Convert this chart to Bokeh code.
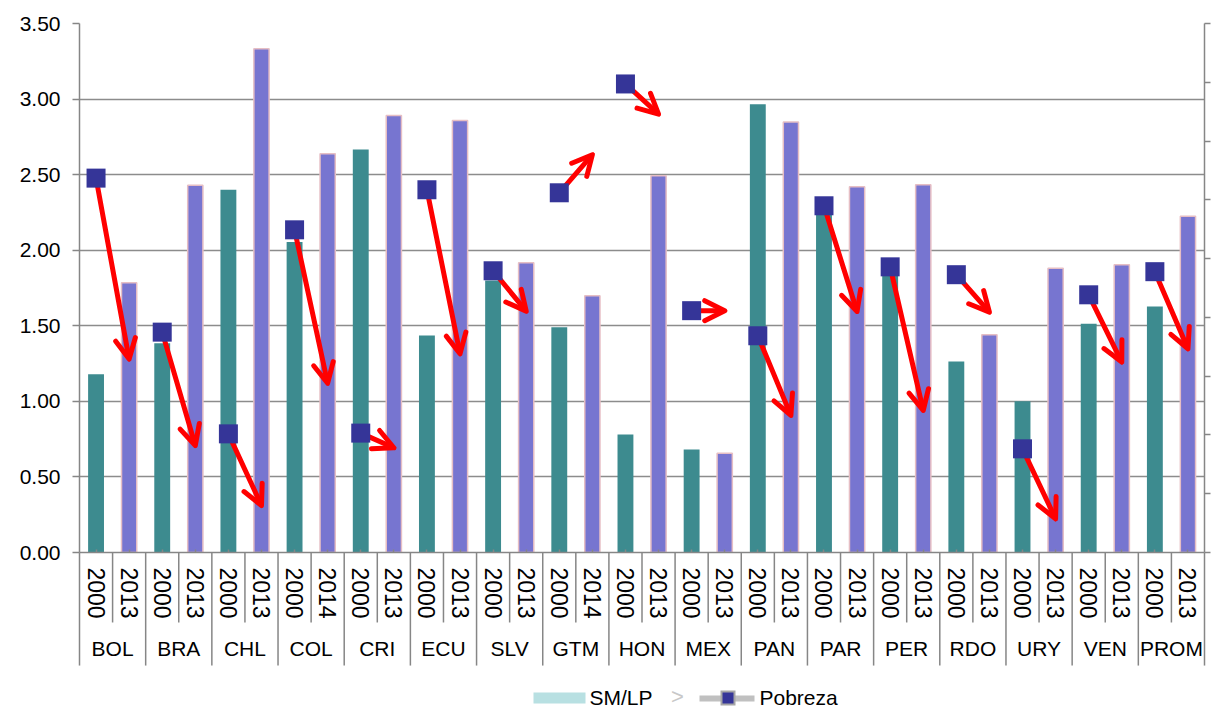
from bokeh.plotting import figure
from bokeh.models import (FactorRange, Range1d, LinearAxis, FixedTicker, Arrow, OpenHead,
                          ColumnDataSource, NumeralTickFormatter, CustomJSTickFormatter)
from bokeh.core.properties import value
from bokeh.embed import file_html
from bokeh.resources import INLINE

# ---------------- data ----------------
countries = ["BOL", "BRA", "CHL", "COL", "CRI", "ECU", "SLV", "GTM", "HON",
             "MEX", "PAN", "PAR", "PER", "RDO", "URY", "VEN", "PROM"]
years_a = ["2000"] * 17
years_b = ["2013", "2013", "2013", "2014", "2013", "2013", "2013", "2014", "2013",
           "2013", "2013", "2013", "2013", "2013", "2013", "2013", "2013"]
sm_lp_a = [1.18, 1.385, 2.40, 2.054, 2.667, 1.436, 1.80, 1.491, 0.781,
           0.682, 2.965, 2.25, 1.86, 1.264, 1.00, 1.513, 1.628]
sm_lp_b = [1.785, 2.429, 3.333, 2.638, 2.892, 2.859, 1.917, 1.699, 2.493,
           0.657, 2.848, 2.42, 2.433, 1.44, 1.88, 1.904, 2.224]
pobreza_a = [2.477, 1.458, 0.785, 2.135, 0.79, 2.40, 1.864, 2.38, 3.10,
             1.60, 1.434, 2.294, 1.89, 1.838, 0.686, 1.705, 1.858]
pobreza_b = [1.28, 0.708, 0.311, 1.12, 0.693, 1.315, 1.597, 2.632, 2.90,
             1.60, 0.907, 1.595, 0.94, 1.59, 0.223, 1.26, 1.348]
y_ticks = [0.0, 0.5, 1.0, 1.5, 2.0, 2.5, 3.0, 3.5]
legend_labels = ["SM/LP", "Pobreza"]

# ---------------- styles ----------------
FONT = "Liberation Sans"
TEAL = "#3D8B8F"
PURPLE = "#7775D0"
PINK = "#E6BEC4"
NAVY = "#353598"
GRID = "#8C8C8C"
AXIS = "#868686"
FRAME_L, FRAME_T, FRAME_W, FRAME_H = 79, 23, 1125, 529
Y_MAX = 3.5

factors = []
for c, ya, yb in zip(countries, years_a, years_b):
    factors += [(c, ya), (c, yb)]
xa = [(c, y) for c, y in zip(countries, years_a)]
xb = [(c, y) for c, y in zip(countries, years_b)]
n = len(factors)

x_range = FactorRange(*factors, factor_padding=0, group_padding=0, range_padding=0)
p = figure(x_range=x_range, y_range=Range1d(0, Y_MAX),
           frame_width=FRAME_W, frame_height=FRAME_H,
           min_border_left=FRAME_L, min_border_top=FRAME_T, min_border_right=8,
           min_border_bottom=158,
           output_backend="svg", toolbar_location=None)
p.outline_line_color = None
p.background_fill_color = "white"
p.border_fill_color = "white"

# bars
p.vbar(x=xa, top=sm_lp_a, width=0.48, fill_color=TEAL, line_color=None)
p.vbar(x=xb, top=sm_lp_b, width=0.46, fill_color=PURPLE, line_color=PINK, line_width=1.5)

# arrows
arrow_src = ColumnDataSource(dict(x0=xa, y0=pobreza_a, x1=xb, y1=pobreza_b))
p.add_layout(Arrow(x_start="x0", y_start="y0", x_end="x1", y_end="y1", source=arrow_src,
                   line_color="#FF0000", line_width=5, line_cap="round",
                   end=OpenHead(size=20, line_color="#FF0000", line_width=5,
                                line_cap="round", line_join="round")))

# poverty markers
mk = p.scatter(x=xa, y=pobreza_a, marker="square", size=19, fill_color=NAVY, line_color=None)
mk.level = "overlay"

# category separators below the axis
bounds = list(range(n + 1))
depth = [-0.748 if k % 2 == 0 else -0.463 for k in bounds]
sep = p.segment(x0=bounds, y0=[0] * len(bounds), x1=bounds, y1=depth,
                line_color=AXIS, line_width=1.5)
sep.level = "overlay"

# grid
p.xgrid.grid_line_color = None
p.ygrid.grid_line_color = GRID
p.ygrid.grid_line_width = 1.5

# left axis
ya_ax = p.yaxis[0]
ya_ax.ticker = FixedTicker(ticks=y_ticks)
ya_ax.formatter = NumeralTickFormatter(format="0.00")
ya_ax.major_tick_out = 7
ya_ax.major_tick_in = 0
ya_ax.minor_tick_line_color = None
ya_ax.axis_line_color = AXIS
ya_ax.axis_line_width = 1.5
ya_ax.major_tick_line_color = AXIS
ya_ax.major_tick_line_width = 1.5
ya_ax.major_label_text_font = FONT
ya_ax.major_label_text_font_size = "21px"
ya_ax.major_label_text_color = "black"
ya_ax.major_label_standoff = 12

# right axis (ticks only, no labels)
p.extra_y_ranges = {"r": Range1d(0, 9)}
r_ax = LinearAxis(y_range_name="r", ticker=FixedTicker(ticks=list(range(10))),
                  formatter=CustomJSTickFormatter(code="return ''"))
r_ax.major_label_standoff = 0
r_ax.major_tick_out = 6
r_ax.major_tick_in = 0
r_ax.minor_tick_line_color = None
r_ax.axis_line_color = AXIS
r_ax.axis_line_width = 1.5
r_ax.major_tick_line_color = AXIS
r_ax.major_tick_line_width = 1.5
p.add_layout(r_ax, "right")

# x axis
xa_ax = p.xaxis[0]
xa_ax.axis_line_color = AXIS
xa_ax.axis_line_width = 1.5
xa_ax.major_tick_line_color = AXIS
xa_ax.major_tick_line_width = 1.5
xa_ax.major_tick_in = 3
xa_ax.major_tick_out = 0
xa_ax.major_label_orientation = "vertical"
xa_ax.major_label_text_font = FONT
xa_ax.major_label_text_font_size = "23px"
xa_ax.major_label_text_color = "black"
xa_ax.major_label_standoff = 15
xa_ax.group_text_font = FONT
xa_ax.group_text_font_size = "21px"
xa_ax.group_text_color = "black"
xa_ax.group_text_font_style = "normal"
xa_ax.group_label_orientation = "horizontal"
xa_ax.separator_line_color = None

# ---------------- legend below the axis (drawn with overlay glyphs) ----------------
UX = FRAME_W / n          # px per category unit
UY = FRAME_H / Y_MAX      # px per value unit


def fx(px):
    return (px - FRAME_L) / UX


def fy(py):
    return (FRAME_T + FRAME_H - py) / UY


def box(x0, x1, y0, y1):
    # rectangle hung from the axis baseline by a zero-area stem (keeps it in view)
    xs = [fx(x0), fx(x0), fx(x1), fx(x1), fx(x0), fx(x0)]
    ys = [0, fy(y0), fy(y0), fy(y1), fy(y1), 0]
    return xs, ys


shapes = [box(533, 585, 692, 703),      # SM/LP swatch
          box(699, 754, 695, 701),      # Pobreza line
          box(720, 735, 690, 705),      # marker outline
          box(722, 733, 692, 703)]      # marker
colors = ["#B8E0E2", "#C0C0C0", "#A6A6A6", NAVY]
leg = p.patches(xs=[s[0] for s in shapes], ys=[s[1] for s in shapes],
                fill_color=colors, line_color=None)
leg.level = "overlay"

lab = p.text(x=[fx(589), fx(759)], y=[0, 0], text=legend_labels, text_font=value(FONT),
             text_font_size="21px", text_color="black", text_align="left",
             text_baseline="middle", y_offset=697 - (FRAME_T + FRAME_H))
lab.level = "overlay"

chev = p.text(x=[fx(677)], y=[0], text=[">"], text_font=value(FONT), text_font_size="22px",
              text_color="#C8C8C8", text_align="center", text_baseline="middle",
              y_offset=696 - (FRAME_T + FRAME_H))
chev.level = "overlay"

open("out.html", "w").write(file_html(p, INLINE))
